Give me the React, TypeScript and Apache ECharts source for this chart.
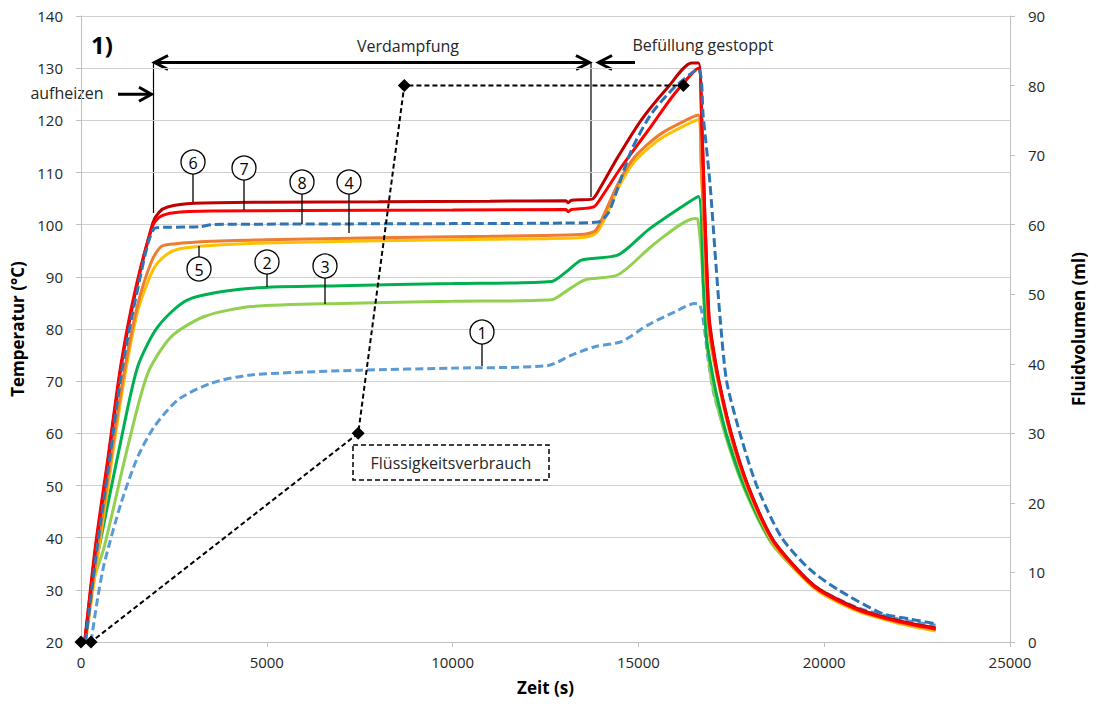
import React, { useEffect, useRef } from "react";
import * as echarts from "echarts";

// Temperature series [time (s), temperature (°C)]
const s1 = [[270,20],[450,28.5],[628,35.1],[1077,46.6],[1527,55.5],[1975,61.3],[2604,66.4],[3502,69.6],[4579,71.2],[7500,72.1],[10000,72.5],[12570,73],[13200,75],[13827,76.6],[14545,77.6],[15265,80.8],[15983,83.3],[16520,84.9],[16655,84.6],[16760,81],[16880,74],[17050,67],[17400,59],[17870,49.5],[18550,39.8],[19250,34],[19850,30.2],[20900,26.6],[22000,24.4],[23000,23.2]];
const s2 = [[100,20],[350,33],[540,40],[1077,58.7],[1527,72.8],[2065,80.4],[2873,85.6],[4579,87.8],[7000,88.3],[10000,88.7],[12660,89.1],[13064,91],[13468,93.2],[14456,94.2],[15265,99],[16162,103.4],[16610,105.4],[16745,89],[16835,78],[16950,73],[17100,67.5],[17400,59],[17870,49.5],[18550,39.6],[19250,33.8],[19850,29.9],[20900,26.1],[22000,23.8],[23000,22.5]];
const s3 = [[100,20],[350,32],[628,38.3],[1257,57.4],[1796,71.5],[2424,78.5],[3322,82.4],[4579,84.3],[7000,84.9],[10000,85.3],[12660,85.6],[13110,87.5],[13558,89.4],[14456,90.4],[15443,96.4],[16520,101.2],[16600,101],[16700,94],[16800,81],[16950,71],[17100,66],[17400,58.3],[17870,49],[18550,39.3],[19250,33.6],[19850,29.7],[20900,26],[22000,23.7],[23000,22.4]];
const s4 = [[110,20],[430,37],[750,52.5],[1120,70],[1520,84.5],[1900,93],[2155,95.8],[2500,96.3],[3500,96.8],[5000,97.1],[8000,97.5],[11000,97.8],[13400,98.1],[13830,98.8],[14006,100.9],[14456,107.9],[14905,113],[15623,117.5],[16610,121],[16690,112],[16780,97],[16890,81],[17000,75.5],[17185,69],[17500,59.3],[17950,49.5],[18590,39.6],[19250,33.9],[19850,29.9],[20900,26.1],[22000,23.8],[23000,22.4]];
const s5 = [[120,20],[440,36],[760,51.5],[1130,69],[1530,83.5],[1950,91.5],[2290,94.2],[2600,95.3],[3500,96],[5000,96.5],[8000,96.9],[11000,97.2],[13400,97.5],[13830,98.2],[14050,100.5],[14456,107],[14905,112.2],[15623,116.6],[16610,120.1],[16690,111],[16780,96],[16890,80],[17000,75],[17185,68.5],[17500,59],[17950,49.2],[18590,39.3],[19250,33.7],[19850,29.7],[20900,25.9],[22000,23.6],[23000,22.1]];
const s6 = [[100,20],[400,38.3],[720,54.3],[1080,72.8],[1480,87.5],[1930,100.3],[2100,102.4],[2330,103.4],[3050,104.1],[5000,104.3],[8000,104.4],[11000,104.5],[13050,104.6],[13110,104.2],[13200,104.7],[13750,104.9],[13950,106.8],[14450,113],[15080,120.1],[15800,126.4],[16430,131],[16620,131],[16700,121],[16790,101.5],[16900,82.5],[17000,77],[17185,69.5],[17500,60],[17950,50],[18590,40],[19250,34.2],[19850,30.2],[20900,26.4],[22000,24.1],[23000,22.7]];
const s7 = [[100,20],[390,38.5],[710,54.5],[1070,73],[1470,87.8],[1940,100],[2150,101.6],[2500,102.3],[3500,102.6],[6000,102.7],[10000,102.8],[13050,102.9],[13110,102.5],[13200,102.9],[13800,103.4],[14000,105.2],[14545,111.1],[15265,118.1],[15983,125.2],[16610,130],[16700,120.5],[16790,101],[16900,82],[17000,76.5],[17185,69.3],[17500,59.8],[17950,49.8],[18590,39.8],[19250,34],[19850,30],[20900,26.2],[22000,23.9],[23000,22.5]];
const s8 = [[120,20],[420,37.5],[740,53.5],[1100,72],[1500,86.8],[1975,99.3],[2300,99.5],[3200,99.6],[3500,100],[5000,100.1],[10000,100.2],[13000,100.3],[13920,100.5],[14186,102.2],[14366,105.4],[14815,114.3],[15354,121.3],[15983,126.4],[16610,129.8],[16745,120.7],[16925,108],[17060,95],[17195,82.4],[17374,70],[17733,60],[18182,50],[18855,40],[19600,34],[20380,30],[21548,25.5],[22300,24.4],[23000,23.5]];

// Fluid consumption (right axis)
const fluidTime = [0, 270, 7460, 8700, 16210];
const fluidVolume = [0, 0, 30, 80, 80];

const seriesNames = ["1", "2", "3", "4", "5", "6", "7", "8"];
const seriesColors = ["#5B9BD5", "#00B050", "#92D050", "#ED7D31", "#FFC000", "#C00000", "#FF0000", "#2E75B6"];

const FONT = '"Open Sans", sans-serif';
const TXT = "#262626";

function circled(n: string, cx: number, cy: number, y1: number, y2: number) {
  return [
    { type: "line", shape: { x1: cx, y1, x2: cx, y2 }, style: { stroke: "#000", lineWidth: 1.3 }, z: 100 },
    { type: "circle", shape: { cx, cy, r: 12 }, style: { fill: "#fff", stroke: "#000", lineWidth: 1.3 }, z: 100 },
    { type: "text", x: cx, y: cy + 1, style: { text: n, fill: "#000", fontSize: 16, fontFamily: FONT, align: "center", verticalAlign: "middle" }, z: 101 },
  ];
}

export default function App() {
  const ref = useRef<HTMLDivElement>(null);
  useEffect(() => {
    const chart = echarts.init(ref.current!, null, { renderer: "svg" });
    const tempData = [s1, s2, s3, s4, s5, s6, s7, s8];
    const order = [0, 2, 1, 4, 3, 5, 6, 7];
    const lineSeries: any[] = order.map((i) => ({
      name: seriesNames[i],
      type: "line",
      yAxisIndex: 0,
      data: tempData[i],
      showSymbol: false,
      smooth: 0.25,
      lineStyle: {
        color: seriesColors[i],
        width: 3,
        type: i === 0 ? [8, 4] : i === 7 ? [9, 4] : "solid",
      },
      z: 2,
    }));
    lineSeries.push({
      name: "Flüssigkeitsverbrauch",
      type: "line",
      yAxisIndex: 1,
      data: fluidTime.map((t, k) => [t, fluidVolume[k]]),
      symbol: "diamond",
      symbolSize: 13,
      itemStyle: { color: "#000" },
      lineStyle: { color: "#000", width: 2, type: [5, 3] },
      z: 5,
    });

    const graphic: any[] = [
      { type: "text", x: 102, y: 44, style: { text: "1)", fill: "#000", fontSize: 24, fontWeight: "bold", fontFamily: FONT, align: "center", verticalAlign: "middle" } },
      { type: "text", x: 408, y: 46, style: { text: "Verdampfung", fill: TXT, fontSize: 16, fontFamily: FONT, align: "center", verticalAlign: "middle" } },
      { type: "text", x: 703, y: 45, style: { text: "Befüllung gestoppt", fill: TXT, fontSize: 16, fontFamily: FONT, align: "center", verticalAlign: "middle" } },
      { type: "text", x: 67, y: 93, style: { text: "aufheizen", fill: TXT, fontSize: 16, fontFamily: FONT, align: "center", verticalAlign: "middle" } },
      { type: "line", shape: { x1: 153.5, y1: 62, x2: 153.5, y2: 213 }, style: { stroke: "#000", lineWidth: 1.2 } },
      { type: "line", shape: { x1: 591, y1: 62, x2: 591, y2: 197 }, style: { stroke: "#000", lineWidth: 1.2 } },
      { type: "line", shape: { x1: 154, y1: 62.5, x2: 589, y2: 62.5 }, style: { stroke: "#000", lineWidth: 3 } },
      { type: "polyline", shape: { points: [[168, 55.5], [154.5, 62.5], [168, 69.5]] }, style: { stroke: "#000", lineWidth: 3, fill: null } },
      { type: "polyline", shape: { points: [[576, 55.5], [589.5, 62.5], [576, 69.5]] }, style: { stroke: "#000", lineWidth: 3, fill: null } },
      { type: "line", shape: { x1: 599, y1: 62.5, x2: 635, y2: 62.5 }, style: { stroke: "#000", lineWidth: 3 } },
      { type: "polyline", shape: { points: [[612, 55.5], [598.5, 62.5], [612, 69.5]] }, style: { stroke: "#000", lineWidth: 3, fill: null } },
      { type: "line", shape: { x1: 118, y1: 94.3, x2: 151, y2: 94.3 }, style: { stroke: "#000", lineWidth: 3 } },
      { type: "polyline", shape: { points: [[139, 87.3], [151.5, 94.3], [139, 101.3]] }, style: { stroke: "#000", lineWidth: 3, fill: null } },
      { type: "rect", shape: { x: 353, y: 445, width: 196, height: 35 }, style: { fill: "#fff", stroke: "#000", lineWidth: 1.5, lineDash: [5, 3] }, z: 100 },
      { type: "text", x: 451, y: 463, style: { text: "Flüssigkeitsverbrauch", fill: TXT, fontSize: 16, fontFamily: FONT, align: "center", verticalAlign: "middle" }, z: 101 },
      ...circled("6", 193, 162, 174, 202),
      ...circled("7", 244, 168, 180, 210),
      ...circled("8", 302, 182, 194, 224),
      ...circled("4", 349, 182, 194, 233),
      ...circled("5", 199, 269, 246, 257),
      ...circled("2", 267, 262, 274, 287),
      ...circled("3", 325, 266, 278, 304),
      ...circled("1", 482, 332, 344, 366),
    ];

    const axisLineStyle = { color: "#BFBFBF", width: 1 };
    const titleStyle = { fontSize: 17, fontWeight: "bold", color: "#000", fontFamily: FONT };
    chart.setOption({
      animation: false,
      backgroundColor: "#fff",
      textStyle: { fontFamily: FONT },
      grid: { left: 81, right: 88, top: 16, bottom: 64, containLabel: false },
      xAxis: {
        type: "value",
        min: 0,
        max: 25000,
        interval: 5000,
        name: "Zeit (s)",
        nameLocation: "middle",
        nameGap: 37,
        nameTextStyle: titleStyle,
        axisLine: { show: true, lineStyle: axisLineStyle },
        axisTick: { show: true, length: 5, lineStyle: axisLineStyle },
        axisLabel: { fontSize: 15, color: TXT, margin: 12, fontFamily: FONT, formatter: (v: number) => String(v) },
        splitLine: { show: false },
      },
      yAxis: [
        {
          type: "value",
          min: 20,
          max: 140,
          interval: 10,
          name: "Temperatur (°C)",
          nameLocation: "middle",
          nameRotate: 90,
          nameGap: 52,
          nameTextStyle: titleStyle,
          axisLine: { show: true, lineStyle: axisLineStyle },
          axisTick: { show: true, length: 5, lineStyle: axisLineStyle },
          axisLabel: { fontSize: 15, color: TXT, margin: 18, fontFamily: FONT },
          splitLine: { show: true, lineStyle: { color: "#D0D0D0", width: 1 } },
        },
        {
          type: "value",
          position: "right",
          min: 0,
          max: 90,
          interval: 10,
          name: "Fluidvolumen (ml)",
          nameLocation: "middle",
          nameRotate: 90,
          nameGap: 60,
          nameTextStyle: titleStyle,
          axisLine: { show: true, lineStyle: axisLineStyle },
          axisTick: { show: true, length: 5, lineStyle: axisLineStyle },
          axisLabel: { fontSize: 15, color: TXT, margin: 18, fontFamily: FONT },
          splitLine: { show: false },
        },
      ],
      series: lineSeries,
      graphic,
    });
    return () => chart.dispose();
  }, []);
  return <div ref={ref} style={{ position: "absolute", left: 0, top: 0, width: 1098, height: 706 }} />;
}
